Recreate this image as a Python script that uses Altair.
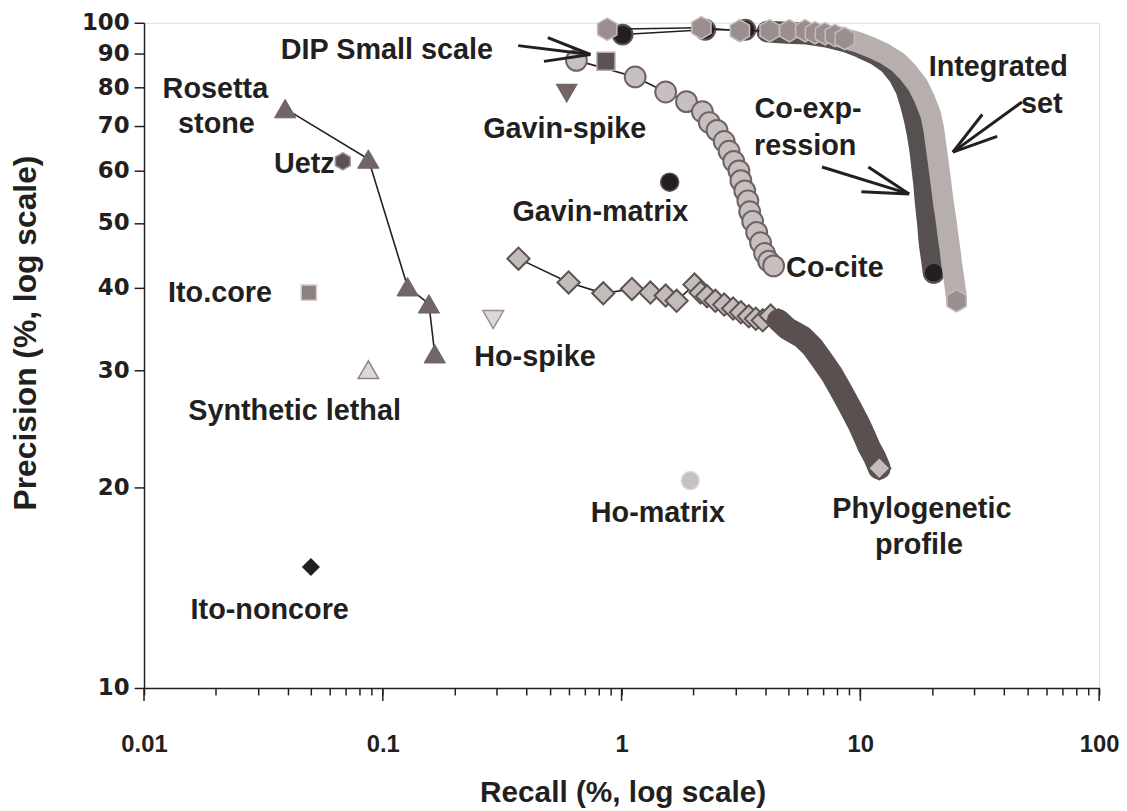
import altair as alt
import pandas as pd

FONT = "Liberation Sans"
INK = "#231f20"

# ---------------- data (recall %, precision %) ----------------
cocite_x = [0.647, 1.14, 1.53, 1.87, 2.18, 2.33, 2.51, 2.69, 2.82, 2.95, 3.10, 3.16, 3.28, 3.38, 3.44, 3.54, 3.68, 3.82, 3.97, 4.13, 4.33]
cocite_y = [87.8, 82.9, 78.7, 76.1, 73.5, 70.8, 68.9, 66.3, 64.1, 61.9, 59.9, 57.9, 55.9, 54.0, 52.0, 50.3, 48.4, 46.7, 45.0, 43.8, 43.1]

phylo_x = [0.37, 0.60, 0.838, 1.105, 1.32, 1.53, 1.70, 2.02, 2.14, 2.28, 2.47, 2.69, 2.93, 3.16, 3.41, 3.65, 3.90, 4.21, 4.54,
           4.95, 5.71, 6.28, 6.91, 7.60, 8.20, 8.77, 9.38, 9.93, 10.4, 10.9, 11.5, 12.0]
phylo_y = [44.2, 40.7, 39.2, 39.8, 39.3, 38.9, 38.2, 40.4, 39.3, 38.8, 38.2, 37.7, 37.2, 36.7, 36.2, 35.9, 35.7, 36.3, 35.7,
           34.7, 33.7, 32.6, 31.1, 29.6, 28.2, 27.0, 25.8, 24.8, 23.9, 23.0, 22.2, 21.4]

coexp_x = [1.01, 2.24, 3.30, 4.08, 4.95, 5.99, 7.24, 8.77, 10.1, 11.7, 13.2, 14.5, 15.6, 16.3, 16.9, 17.4, 17.8, 18.1, 18.5, 18.8, 19.2, 19.5, 19.9, 20.3]
coexp_y = [96.0, 97.6, 97.6, 97.0, 96.6, 96.3, 95.3, 93.7, 91.8, 89.6, 86.9, 83.4, 79.3, 75.3, 71.5, 67.9, 64.5, 61.3, 57.3, 53.5, 49.9, 46.6, 44.3, 42.1]

integ_x = [0.871, 2.16, 3.13, 4.17, 5.04, 5.87, 6.46, 7.11, 7.82, 8.60, 9.84, 11.1, 12.6, 14.4, 15.8, 17.4, 18.5, 19.7, 20.3, 20.7,
           21.1, 21.5, 21.9, 22.3, 22.8, 23.2, 23.7, 24.1, 24.6, 25.1, 25.3]
integ_y = [97.8, 98.3, 97.3, 97.3, 97.3, 97.3, 96.6, 96.3, 95.7, 94.7, 93.4, 91.8, 89.9, 87.2, 84.3, 80.6, 77.1, 72.8, 69.1, 65.6,
           62.4, 59.3, 56.3, 53.5, 50.8, 48.3, 45.8, 43.5, 41.4, 39.3, 38.2]

rosetta_x = [0.039, 0.087, 0.127, 0.156, 0.165]
rosetta_y = [74.3, 62.4, 40.1, 37.8, 31.8]

single_names = ["Uetz", "Ito.core", "Synthetic lethal", "Ito-noncore", "Ho-spike", "Ho-matrix", "Gavin-spike", "Gavin-matrix", "DIP Small scale"]
single_x = [0.068, 0.049, 0.087, 0.050, 0.29, 1.94, 0.589, 1.59, 0.86]
single_y = [61.9, 39.3, 30.1, 15.2, 35.8, 20.5, 78.4, 57.6, 87.5]

label_text = ["DIP Small scale", "Rosetta", "stone", "Uetz", "Ito.core", "Synthetic lethal", "Ito-noncore", "Ho-spike",
              "Gavin-spike", "Gavin-matrix", "Ho-matrix", "Co-cite", "Phylogenetic", "profile", "Co-exp-", "ression",
              "Integrated", "set"]
label_x = [0.104, 0.0199, 0.0201, 0.0469, 0.0208, 0.0427, 0.0336, 0.434, 0.578, 0.815, 1.42, 7.82, 18.1, 17.6, 6.04, 5.87, 37.8, 57.5]
label_y = [90.9, 79.5, 70.5, 61.3, 39.2, 26.1, 13.1, 31.4, 69.3, 52.0, 18.3, 42.8, 18.6, 16.4, 74.3, 65.2, 85.7, 75.5]

# arrow strokes (start -> tip), data coordinates
arrow_x1 = [0.369, 0.491, 0.473, 6.91, 10.8, 10.1, 47.5, 32.4, 37.4]
arrow_y1 = [92.4, 95.0, 87.5, 60.7, 60.7, 55.7, 76.0, 72.8, 67.5]
arrow_x2 = [0.740, 0.740, 0.740, 16.0, 16.0, 16.0, 24.4, 24.4, 24.4]
arrow_y2 = [89.6, 89.6, 89.6, 55.3, 55.3, 55.3, 63.9, 63.9, 63.9]

x_ticks = [0.01, 0.02, 0.03, 0.04, 0.05, 0.06, 0.07, 0.08, 0.09,
           0.1, 0.2, 0.3, 0.4, 0.5, 0.6, 0.7, 0.8, 0.9,
           1, 2, 3, 4, 5, 6, 7, 8, 9,
           10, 20, 30, 40, 50, 60, 70, 80, 90, 100]
x_major = [0.01, 0.1, 1, 10, 100]
y_ticks = [10, 20, 30, 40, 50, 60, 70, 80, 90, 100]


def frame(xs, ys):
    return pd.DataFrame({"recall": xs, "precision": ys, "seq": list(range(len(xs)))})


HEX = "M0,-1L0.866,-0.5L0.866,0.5L0,1L-0.866,0.5L-0.866,-0.5Z"

xenc = alt.X("recall:Q",
             scale=alt.Scale(type="log", domain=[0.01, 100]),
             axis=alt.Axis(values=x_ticks,
                           labelExpr="indexof([0.01,0.1,1,10,100], datum.value) >= 0 ? datum.label : ''",
                           format="~g", grid=False, tickSize=7, tickWidth=1.5, tickColor=INK,
                           domainColor=INK, domainWidth=1.5,
                           labelFont=FONT, labelFontSize=24, labelFontWeight="bold", labelColor=INK,
                           labelPadding=38, labelFlush=False, labelOverlap=False,
                           title="Recall (%, log scale)", titleFont=FONT, titleFontSize=30,
                           titleFontWeight="bold", titleColor=INK, titleX=482, titleY=105,
                           titleBaseline="middle", titleAlign="center"))
yenc = alt.Y("precision:Q",
             scale=alt.Scale(type="log", domain=[10, 100]),
             axis=alt.Axis(values=y_ticks, format="d", grid=False, tickSize=10, tickWidth=1.5,
                           tickColor=INK, domainColor=INK, domainWidth=1.5,
                           labelFont="DejaVu Sans", labelFontSize=23, labelFontWeight="bold", labelColor=INK,
                           labelPadding=5, labelOverlap=False, labelFlush=False,
                           title="Precision (%, log scale)", titleFont=FONT, titleFontSize=32,
                           titleFontWeight="bold", titleColor=INK, titleX=-119, titleY=312,
                           titleBaseline="middle", titleAlign="center", titleAngle=270))


def thin_line(df):
    return alt.Chart(df).mark_line(color=INK, strokeWidth=1.6).encode(x=xenc, y=yenc, order="seq:Q")


def band(df, start, color, width=21):
    return (alt.Chart(df).transform_filter(f"datum.seq >= {start}")
            .mark_line(color=color, strokeWidth=width, strokeCap="round", strokeJoin="round")
            .encode(x=xenc, y=yenc, order="seq:Q"))


def pts(df, shape, size, fill, stroke, sw=1.5, flt=None):
    c = alt.Chart(df)
    if flt:
        c = c.transform_filter(flt)
    return c.mark_point(shape=shape, size=size, filled=True, fill=fill, stroke=stroke,
                        strokeWidth=sw, opacity=1).encode(x=xenc, y=yenc)


cocite = frame(cocite_x, cocite_y)
phylo = frame(phylo_x, phylo_y)
coexp = frame(coexp_x, coexp_y)
integ = frame(integ_x, integ_y)
rosetta = frame(rosetta_x, rosetta_y)
singles = pd.DataFrame({"name": single_names, "recall": single_x, "precision": single_y})
labels = pd.DataFrame({"text": label_text, "recall": label_x, "precision": label_y})
arrows = pd.DataFrame({"recall": arrow_x1, "precision": arrow_y1, "recall2": arrow_x2, "precision2": arrow_y2})

n_phylo = len(phylo_x) - 1
n_coexp = len(coexp_x) - 1
n_integ = len(integ_x) - 1

layers = []
# Phylogenetic profile
layers.append(thin_line(phylo))
layers.append(pts(phylo, "diamond", 500, "#c4bcbb", "#5c5252", 2, "datum.seq <= 18"))
layers.append(band(phylo, 18, "#5a5050", 23))
layers.append(pts(phylo, "diamond", 500, "#c4bcbb", "#5c5252", 2, f"datum.seq == {n_phylo}"))
# Co-cite
layers.append(thin_line(cocite))
layers.append(pts(cocite, "circle", 440, "#c8c0c0", "#6e6262", 2))
# Co-expression
layers.append(thin_line(coexp))
layers.append(band(coexp, 3, "#575050", 22))
layers.append(pts(coexp, "circle", 400, INK, "#5c5252", 2, f"datum.seq < 3 || datum.seq == {n_coexp}"))
# Integrated set
layers.append(thin_line(integ))
layers.append(band(integ, 8, "#b7afae", 21))
layers.append(pts(integ, HEX, 500, "#9a8e8e", "#c4bcbb", 1.5, "datum.seq <= 9"))
layers.append(pts(integ, HEX, 500, "#9a8e8e", "#c4bcbb", 1.5, f"datum.seq == {n_integ}"))
# Rosetta stone
layers.append(thin_line(rosetta))
layers.append(pts(rosetta, "triangle-up", 460, "#716565", "#716565", 1))

# single-point methods
single_style = {
    "Uetz": (HEX, 300, "#5c5252", "#a39898"),
    "Ito.core": ("square", 240, "#8c8080", "#d4cdcc"),
    "Synthetic lethal": ("triangle-up", 420, "#dcd8d6", "#8c8080"),
    "Ito-noncore": ("diamond", 260, INK, INK),
    "Ho-spike": ("triangle-down", 440, "#ddd6d4", "#9a8e8e"),
    "Ho-matrix": ("circle", 330, "#c8c0c0", "#dedada"),
    "Gavin-spike": ("triangle-down", 400, "#716565", "#716565"),
    "Gavin-matrix": ("circle", 330, INK, "#5c5252"),
    "DIP Small scale": ("square", 330, "#5c5252", "#b5aeac"),
}
for nm, (shape, size, fill, stroke) in single_style.items():
    layers.append(pts(singles, shape, size, fill, stroke, 1.5, f"datum.name == '{nm}'"))

# longer major ticks on the x axis
major = pd.DataFrame({"recall": x_major})
layers.append(alt.Chart(major).mark_rule(color=INK, strokeWidth=1.5)
              .encode(x=xenc, y=alt.value(670), y2=alt.value(683)))

# arrows
layers.append(alt.Chart(arrows).mark_rule(color=INK, strokeWidth=3)
              .encode(x=xenc, y=yenc, x2="recall2:Q", y2="precision2:Q"))

# labels
layers.append(alt.Chart(labels).mark_text(font=FONT, fontSize=29, fontWeight="bold", color=INK,
                                          align="center", baseline="middle")
              .encode(x=xenc, y=yenc, text="text:N"))

chart = (alt.layer(*layers)
         .properties(width=962, height=670,
                     autosize=alt.AutoSizeParams(type="none"),
                     padding={"left": 137, "top": 12, "right": 20, "bottom": 118})
         .configure_view(stroke=INK, strokeWidth=1.5)
         .configure(background="white"))

chart.save("out.html", embed_options={"renderer": "svg", "actions": False})
